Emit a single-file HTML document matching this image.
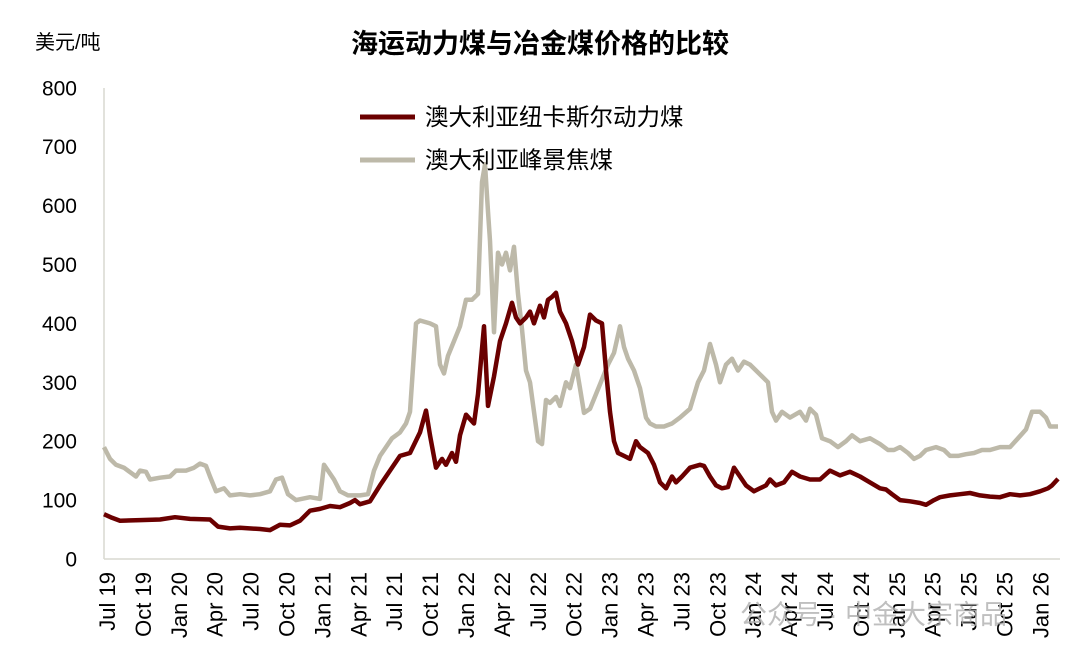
<!DOCTYPE html>
<html><head><meta charset="utf-8"><style>
body{margin:0;background:#fff;}
text{font-family:"Liberation Sans","Noto Sans CJK SC",sans-serif;}
</style></head><body>
<svg id="s" width="1080" height="660" xmlns="http://www.w3.org/2000/svg">
<text x="540" y="53" font-size="27" font-weight="bold" text-anchor="middle" fill="#000">海运动力煤与冶金煤价格的比较</text>
<text x="35" y="49" font-size="20" fill="#000">美元/吨</text>
<g font-size="21" text-anchor="end" fill="#000" id="yl"></g>
<line x1="104" y1="88" x2="104" y2="559" stroke="#d9d9d0" stroke-width="1.5"/>
<line x1="104" y1="559" x2="1060" y2="559" stroke="#d9d9d0" stroke-width="1.5"/>
<g font-size="22" fill="#000" id="xl"></g>
<polyline id="met" fill="none" stroke="#BDB9A9" stroke-width="4.5" stroke-linejoin="round"/>
<polyline id="steam" fill="none" stroke="#6B0000" stroke-width="4.5" stroke-linejoin="round"/>
<line x1="360" y1="117" x2="415" y2="117" stroke="#6B0000" stroke-width="5"/>
<text x="425" y="125" font-size="23.5" fill="#000">澳大利亚纽卡斯尔动力煤</text>
<line x1="360" y1="160" x2="415" y2="160" stroke="#BDB9A9" stroke-width="5"/>
<text x="425" y="168" font-size="23.5" fill="#000">澳大利亚峰景焦煤</text>
<text x="740" y="624" font-size="27" fill="#b0b0b0" opacity="0.8">公众号 · 中金大宗商品</text>
</svg>
<script>
var ns="http://www.w3.org/2000/svg";
function Y(v){return 559-0.589*v;}
var yl=document.getElementById('yl');
for(var v=0;v<=800;v+=100){var t=document.createElementNS(ns,'text');t.setAttribute('x',77);t.setAttribute('y',Y(v)+7.5);t.textContent=v;yl.appendChild(t);}
var ms=['Jul','Oct','Jan','Apr'];
var labs=[];var year=19;for(var i=0;i<27;i++){var m=ms[i%4];if(m==='Jan'&&i>0)year++;labs.push(m+' '+year);}
var xl=document.getElementById('xl');
labs.forEach(function(l,i){var x=107+i*35.9;var t=document.createElementNS(ns,'text');t.setAttribute('transform','translate('+(x+8)+',572) rotate(-90)');t.setAttribute('text-anchor','end');t.textContent=l;xl.appendChild(t);});
var steam=[104,76,112,70,120,65,140,66,160,67,175,71,190,68,210,67,218,55,230,52,240,53,260,51,270,49,280,58,290,57,300,65,310,82,320,85,330,90,340,88,350,95,355,100,360,93,370,98,380,125,390,150,400,175,410,180,420,215,426,252,430,210,436,155,442,170,446,160,452,180,456,165,460,210,466,245,474,230,478,280,484,395,488,260,494,310,500,370,506,400,512,435,516,410,520,400,526,410,530,420,534,400,540,430,544,410,548,440,552,445,556,452,560,420,566,400,572,370,578,330,584,360,590,415,596,405,602,400,606,320,610,250,614,200,618,180,624,175,630,170,636,200,640,190,648,180,654,160,660,130,666,120,672,140,676,130,682,140,690,155,700,160,704,158,710,140,716,125,722,120,728,122,734,155,740,140,746,125,754,115,760,120,766,125,770,135,776,125,784,130,792,148,800,140,810,135,820,135,830,150,840,142,850,148,860,140,870,130,880,120,886,118,892,110,900,100,910,98,920,95,926,92,934,100,940,105,950,108,960,110,970,112,980,108,990,106,1000,105,1010,110,1020,108,1030,110,1040,115,1048,120,1052,125,1058,136];
var met=[104,190,110,170,116,160,124,155,132,145,136,140,140,150,146,148,150,135,160,138,170,140,176,150,186,150,194,155,200,162,206,158,210,140,216,115,224,120,230,108,240,110,250,108,260,110,270,115,276,135,282,138,288,110,296,100,310,105,320,102,324,160,328,150,334,135,340,115,348,108,360,108,368,110,374,150,380,175,386,190,392,205,400,215,406,230,410,250,416,400,420,405,430,400,436,395,440,330,444,315,448,345,454,370,460,395,466,440,472,440,478,450,482,640,485,670,488,590,490,540,494,385,498,520,502,500,506,520,510,490,514,530,518,450,522,390,526,320,530,300,534,250,538,200,542,195,546,270,550,265,556,275,560,260,566,300,570,290,576,330,580,290,584,248,590,255,596,280,602,305,608,330,614,350,620,395,624,360,628,340,634,320,640,290,646,240,650,230,656,225,664,225,672,230,680,240,690,255,698,300,704,320,710,365,716,330,720,300,726,330,732,340,738,320,744,335,750,330,756,320,762,310,768,300,772,250,776,235,782,250,790,240,800,250,806,235,810,255,816,245,822,205,830,200,838,190,846,200,852,210,860,200,870,205,880,195,888,185,894,185,900,190,908,180,914,170,920,175,926,185,936,190,944,185,950,175,958,175,966,178,974,180,982,185,990,185,1000,190,1010,190,1018,205,1026,220,1032,250,1040,250,1046,240,1050,225,1058,225];
function pts(a){var s=[];for(var i=0;i<a.length;i+=2)s.push(a[i]+','+Y(a[i+1]).toFixed(1));return s.join(' ');}
document.getElementById('steam').setAttribute('points',pts(steam));
document.getElementById('met').setAttribute('points',pts(met));
</script>
</body></html>
